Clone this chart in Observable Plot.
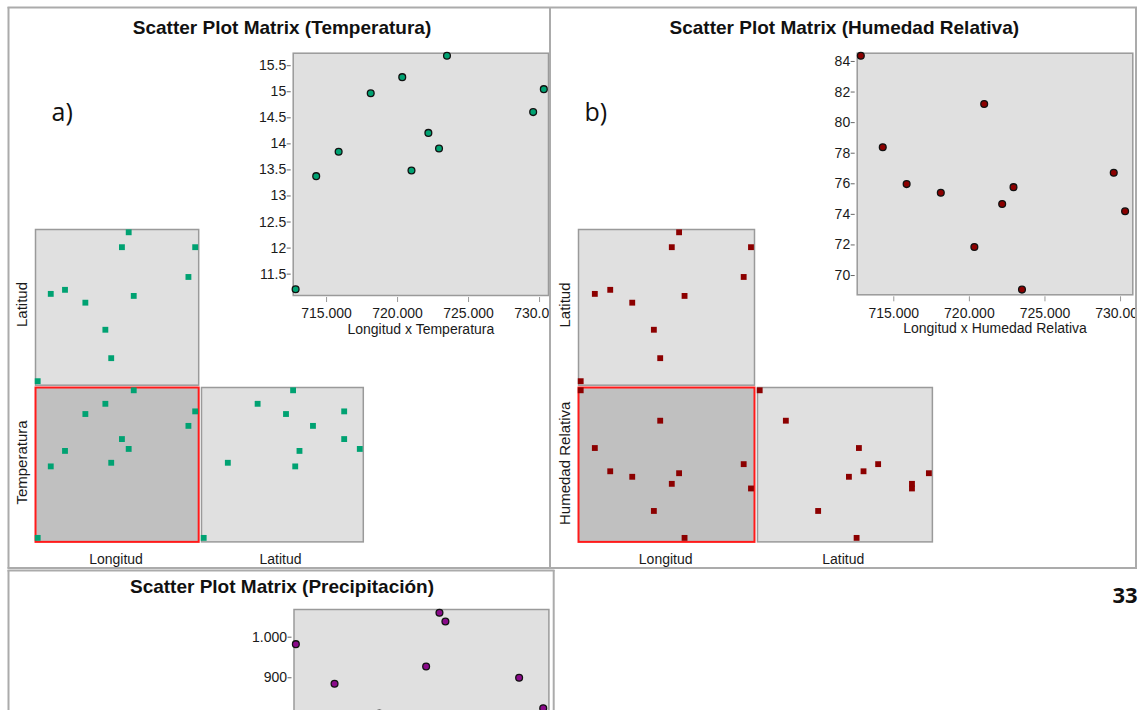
<!DOCTYPE html>
<html>
<head>
<meta charset="utf-8">
<script src="https://cdn.jsdelivr.net/npm/d3@7"></script>
<script src="https://cdn.jsdelivr.net/npm/@observablehq/plot@0.6"></script>
<style>
  html, body { margin: 0; padding: 0; background: #fff; overflow: hidden; }
  #page { position: relative; width: 1141px; height: 710px; overflow: hidden; background: #fff; }
  #page > svg { position: absolute; }
</style>
</head>
<body>
<div id="page"></div>
<script>
// ---------------- data ----------------
const longitud    = [712820, 714270, 715850, 718110, 720330, 720980, 722170, 722920, 723480, 729550, 730300];
const latitud     = [9790000, 9802900, 9803500, 9801600, 9797600, 9793400, 9809800, 9812000, 9802600, 9805400, 9809800];
const temperatura = [11.21, 13.38, 13.85, 14.97, 15.28, 13.49, 14.21, 13.91, 15.69, 14.61, 15.05];
const humedad     = [84.37, 78.39, 75.98, 75.41, 71.87, 81.22, 74.68, 75.78, 69.08, 76.72, 74.2];
const longitudPrecip = [712780, 715510, 718670, 721970, 722910, 723330, 728530, 730230];
const precipitacion  = [982.8, 885.2, 812, 927.8, 1060.1, 1038.7, 900, 825.1];

const ticksLon    = [715000, 720000, 725000, 730000];
const ticksTemp   = [11.5, 12, 12.5, 13, 13.5, 14, 14.5, 15, 15.5];
const ticksHum    = [70, 72, 74, 76, 78, 80, 82, 84];
const ticksPrecip = [500, 600, 700, 800, 900, 1000];

const titles = ["Scatter Plot Matrix (Temperatura)", "Scatter Plot Matrix (Humedad Relativa)", "Scatter Plot Matrix (Precipitación)"];
const bigLabels = ["Longitud x Temperatura", "Longitud x Humedad Relativa"];

const colTemp = "#00a272", colHum = "#8c0000", colPrec = "#8a0a8a";

// ---------------- helpers ----------------
const page = document.getElementById("page");
const es = d3.formatLocale({decimal: ",", thousands: ".", grouping: [3], currency: ["", ""]});
const fmtThousands = es.format(",d");
const fmtPlain = d => String(d);

function place(el, left, top) {
  el.style.position = "absolute";
  el.style.left = left + "px";
  el.style.top = top + "px";
  page.appendChild(el);
}

function bigPlot({left, top, width, height, mL, mR, mT, mB, xDomain, yDomain, yTicks, yFmt, xs, ys, fill, label}) {
  const data = xs.map((x, i) => ({x, y: ys[i]}));
  const marks = [
    Plot.frame({fill: "#e0e0e0", stroke: "#9a9a9a", strokeWidth: 1.5}),
    Plot.axisY({ticks: yTicks, tickFormat: yFmt, tickSize: 4, tickPadding: 1, dx: -2, stroke: "#666"}),
    Plot.axisX({ticks: ticksLon, tickFormat: fmtThousands, tickSize: 5, tickPadding: 6, dy: 2, stroke: "#999"})
  ];
  if (label) marks.push(Plot.text([label], {text: d => d, frameAnchor: "bottom", dy: 28.5, lineAnchor: "top", fontSize: 14}));
  marks.push(Plot.dot(data, {x: "x", y: "y", r: 3.4, fill, stroke: "#111", strokeWidth: 1.3}));
  const p = Plot.plot({
    width, height, marginLeft: mL, marginRight: mR, marginTop: mT, marginBottom: mB,
    style: {background: "transparent", fontFamily: "'Liberation Sans', Arial, sans-serif", fontSize: "14px", color: "#1a1a1a", overflow: "hidden"},
    x: {domain: xDomain, label: null},
    y: {domain: yDomain, label: null},
    marks
  });
  place(p, left, top);
}

function cell({left, top, w, h, xs, ys, bg, border, borderW, color}) {
  const pad = 3;
  const data = xs.map((x, i) => ({x, y: ys[i]}));
  const p = Plot.plot({
    width: w + 2 * pad, height: h + 2 * pad, margin: pad,
    style: {background: "transparent", overflow: "visible"},
    x: {domain: d3.extent(xs), range: [pad + 2.2, pad + w - 3.5], axis: null},
    y: {domain: d3.extent(ys), range: [pad + h - 4, pad + 2.8], axis: null},
    marks: [
      Plot.frame({fill: bg, stroke: border, strokeWidth: borderW}),
      Plot.dot(data, {x: "x", y: "y", symbol: "square", r: 3.3, fill: color})
    ]
  });
  place(p, left - pad, top - pad);
}

// ---------------- panel a: temperatura ----------------
bigPlot({left: 190, top: 40, width: 360, height: 300, mL: 102.7, mR: 2, mT: 12.7, mB: 45,
  xDomain: [712650, 730630], yDomain: [11.09, 15.74], yTicks: ticksTemp, yFmt: fmtPlain,
  xs: longitud, ys: temperatura, fill: colTemp, label: bigLabels[0]});
cell({left: 35, top: 229.3, w: 163.2, h: 155.7, xs: longitud, ys: latitud, bg: "#e0e0e0", border: "#9a9a9a", borderW: 1.5, color: colTemp});
cell({left: 35, top: 387.3, w: 163.2, h: 154.4, xs: longitud, ys: temperatura, bg: "#c0c0c0", border: "#ff1a1a", borderW: 2, color: colTemp});
cell({left: 200.7, top: 387.3, w: 161.8, h: 154.4, xs: latitud, ys: temperatura, bg: "#e0e0e0", border: "#9a9a9a", borderW: 1.5, color: colTemp});

// ---------------- panel b: humedad relativa ----------------
bigPlot({left: 760, top: 40, width: 376, height: 300, mL: 96.7, mR: 3.7, mT: 12.7, mB: 45.7,
  xDomain: [712580, 730810], yDomain: [68.74, 84.54], yTicks: ticksHum, yFmt: fmtPlain,
  xs: longitud, ys: humedad, fill: colHum, label: bigLabels[1]});
cell({left: 578.3, top: 229.3, w: 176, h: 155.7, xs: longitud, ys: latitud, bg: "#e0e0e0", border: "#9a9a9a", borderW: 1.5, color: colHum});
cell({left: 578.3, top: 387.3, w: 176, h: 154.4, xs: longitud, ys: humedad, bg: "#c0c0c0", border: "#ff1a1a", borderW: 2, color: colHum});
cell({left: 756.6, top: 387.3, w: 174.9, h: 154.4, xs: latitud, ys: humedad, bg: "#e0e0e0", border: "#9a9a9a", borderW: 1.5, color: colHum});

// ---------------- panel c: precipitación ----------------
bigPlot({left: 190, top: 600, width: 360, height: 300, mL: 103.5, mR: 1.6, mT: 9, mB: 49,
  xDomain: [712650, 730630], yDomain: [472, 1068.2], yTicks: ticksPrecip, yFmt: fmtThousands,
  xs: longitudPrecip, ys: precipitacion, fill: colPrec, label: null});

// ---------------- overlay: panel borders and texts ----------------
const ns = "http://www.w3.org/2000/svg";
const ov = document.createElementNS(ns, "svg");
ov.setAttribute("width", 1141);
ov.setAttribute("height", 710);
ov.style.left = "0px"; ov.style.top = "0px"; ov.style.pointerEvents = "none";
const sansB = "'Liberation Sans', Arial, sans-serif";
ov.innerHTML = `
  <g stroke="#ababab" stroke-width="2" fill="none">
    <path d="M7.5,7.5 H1137"/>
    <path d="M8.5,7 V568.5"/>
    <path d="M550,7 V568.5"/>
    <path d="M1136,7 V568.5"/>
    <path d="M7.5,568 H1137"/>
    <path d="M7.5,570.5 H554.5"/>
    <path d="M8.5,570 V712"/>
    <path d="M553.7,570 V712"/>
  </g>
  <g font-family="${sansB}" font-weight="bold" font-size="19" fill="#111" text-anchor="middle">
    <text x="282" y="33.5">${titles[0]}</text>
    <text x="844.3" y="33.5">${titles[1]}</text>
    <text x="282" y="592.5">${titles[2]}</text>
  </g>
  <g font-family="'Open Sans', Lato, sans-serif" font-size="25" fill="#111">
    <text x="51.5" y="121">a)</text>
    <text x="584.5" y="121">b)</text>
  </g>
  <g font-family="${sansB}" font-size="14" fill="#1a1a1a" text-anchor="middle">
    <text x="116" y="563.5">Longitud</text>
    <text x="280.5" y="563.5">Latitud</text>
    <text x="665.7" y="563.5">Longitud</text>
    <text x="843.3" y="563.5">Latitud</text>
  </g>
  <g font-family="${sansB}" font-size="15" fill="#1a1a1a" text-anchor="middle">
    <text transform="translate(27,304.5) rotate(-90)">Latitud</text>
    <text transform="translate(27,462.5) rotate(-90)">Temperatura</text>
    <text transform="translate(569.5,305) rotate(-90)">Latitud</text>
    <text transform="translate(569.5,463.3) rotate(-90)">Humedad Relativa</text>
  </g>
  <text x="1112.5" y="603" font-family="'Open Sans', Lato, sans-serif" font-weight="bold" font-size="22" fill="#111">33</text>
`;
page.appendChild(ov);
</script>
</body>
</html>
